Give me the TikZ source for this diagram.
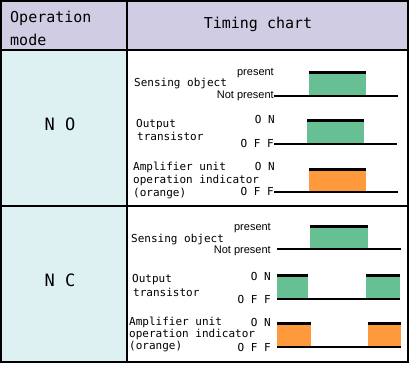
\documentclass[tikz,border=0pt]{standalone}
\usepackage{fontspec}
\setmainfont{DejaVu Sans Mono}
\setsansfont{Liberation Sans}
\usetikzlibrary{positioning}
\usepackage{xcolor}

\definecolor{headlav}{RGB}{208,204,228}
\definecolor{modecyan}{RGB}{221,240,242}
\definecolor{pulsegreen}{RGB}{102,192,148}
\definecolor{pulseorange}{RGB}{255,154,60}

\begin{document}
\begin{tikzpicture}[
  x=1pt, y=-1pt,
  font=\fontsize{11}{13}\selectfont,
  headtext/.style={
    font=\fontsize{15}{23}\selectfont,
    align=left,
    inner sep=0pt
  },
  modetext/.style={
    font=\fontsize{17}{20}\selectfont,
    inner sep=0pt
  },
  sigtext/.style={
    anchor=base west,
    inner sep=0pt
  },
  lvltext/.style={
    anchor=east,
    inner sep=0pt
  },
  lvlword/.style={
    anchor=east,
    inner sep=0pt,
    font=\sffamily\fontsize{11}{13}\selectfont
  },
  level/.style={line width=2pt,draw=black},
  topbar/.style={line width=3pt,draw=black},
  grid/.style={line width=2pt,draw=black}
]
\useasboundingbox (0,0) rectangle (410,365);

% cell backgrounds
\fill[headlav] (0,0) rectangle (409,50);
\fill[modecyan] (0,50) rectangle (127,362);

% header
\node[headtext, anchor=west] (modehead) at (10,28) {Operation\\mode};
\node[headtext] (charthead) at (258,24) {Timing chart};

% mode names
\node[modetext] (modeno) at (60,124) {N O};
\node[modetext] (modenc) at (60,280) {N C};

% ---- NO ----
\node[sigtext] (noSobj) at (134,86) {Sensing object};
\node[lvlword] (noSon) at (274,73) {present};
\node[lvlword] (noSoff) at (274,96) {Not present};
\fill[pulsegreen] (309,73) rectangle (366,96);
\draw[topbar] (309,72.5) -- (366,72.5);
\draw[level] (noSoff.east) -- (398,96);

\node[sigtext] (noOut) at (136,127) {Output};
\node[sigtext] (noOut2) at (137,140) {transistor};
\node[lvltext] (noOon) at (275,119.5) {O N};
\node[lvltext] (noOoff) at (274,143.5) {O F F};
\fill[pulsegreen] (307,120) rectangle (364,144);
\draw[topbar] (307,120.5) -- (364,120.5);
\draw[level] (noOoff.east |- 0,144) -- (397,144);

\node[sigtext] (noAmp) at (133,170) {Amplifier unit};
\node[sigtext] (noAmp2) at (133,183) {operation indicator};
\node[sigtext] (noAmp3) at (133,196) {(orange)};
\node[lvltext] (noAon) at (275,166.5) {O N};
\node[lvltext] (noAoff) at (274,191.5) {O F F};
\fill[pulseorange] (309,169) rectangle (366,192);
\draw[topbar] (309,169.5) -- (366,169.5);
\draw[level] (noAoff.east |- 0,192) -- (398,192);

% ---- NC ----
\node[sigtext] (ncSobj) at (131,242) {Sensing object};
\node[lvlword] (ncSon) at (271,228) {present};
\node[lvlword] (ncSoff) at (271,251) {Not present};
\fill[pulsegreen] (310,226) rectangle (368,249);
\draw[topbar] (310,226.5) -- (368,226.5);
\draw[level] (277,249) -- (401,249);

\node[sigtext] (ncOut) at (132,282) {Output};
\node[sigtext] (ncOut2) at (133,296) {transistor};
\node[lvltext] (ncOon) at (271,276) {O N};
\node[lvltext] (ncOoff) at (271,299) {O F F};
\fill[pulsegreen] (277,275) rectangle (308,299);
\fill[pulsegreen] (366,275) rectangle (400,299);
\draw[topbar] (277,275.5) -- (308,275.5);
\draw[topbar] (366,275.5) -- (400,275.5);
\draw[level] (277,299) -- (400,299);

\node[sigtext] (ncAmp) at (129,325) {Amplifier unit};
\node[sigtext] (ncAmp2) at (129,337) {operation indicator};
\node[sigtext] (ncAmp3) at (129,349) {(orange)};
\node[lvltext] (ncAon) at (271,322) {O N};
\node[lvltext] (ncAoff) at (271,347) {O F F};
\fill[pulseorange] (277,323) rectangle (311,347);
\fill[pulseorange] (368,323) rectangle (401,347);
\draw[topbar] (277,323.5) -- (311,323.5);
\draw[topbar] (368,323.5) -- (401,323.5);
\draw[level] (277,347) -- (401,347);

% table rules
\draw[grid] (0,50) -- (409,50);
\draw[grid] (0,206) -- (409,206);
\draw[grid] (127,0) -- (127,362);
\draw[grid] (1,1) rectangle (408,362);

\end{tikzpicture}
\end{document}
